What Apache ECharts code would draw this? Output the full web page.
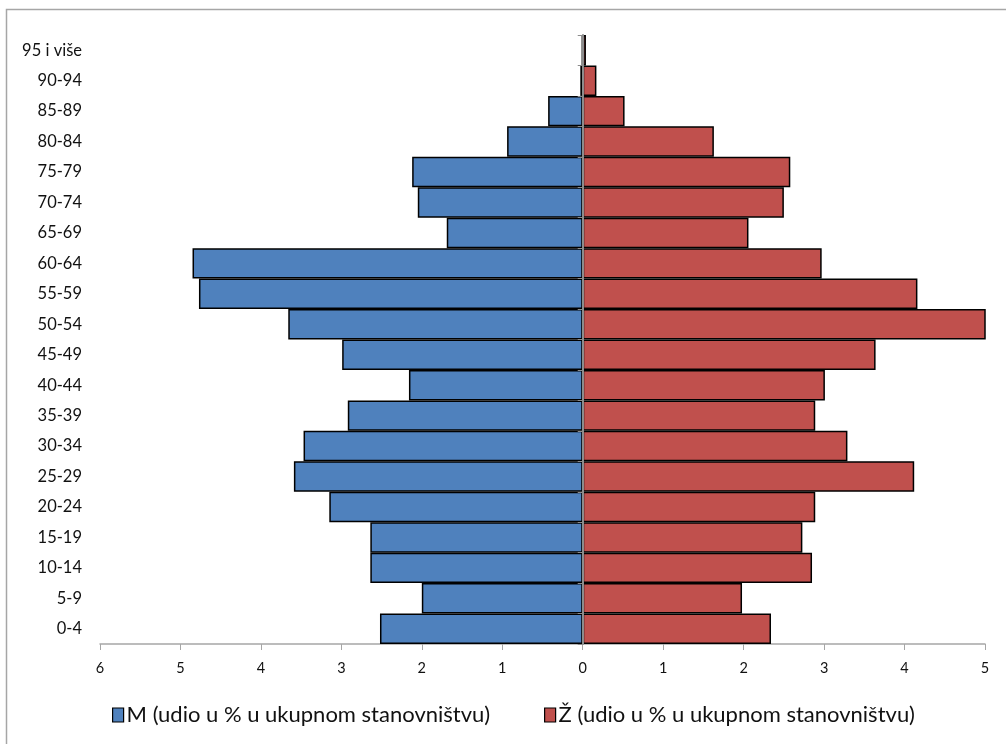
<!DOCTYPE html>
<html>
<head>
<meta charset="utf-8">
<script src="https://cdn.jsdelivr.net/npm/echarts@6/dist/echarts.min.js"></script>
<style>
html,body{margin:0;padding:0;background:#fff;}
#main{width:1006px;height:744px;}
</style>
</head>
<body>
<div id="main"></div>
<script>
const categories = ['0-4','5-9','10-14','15-19','20-24','25-29','30-34','35-39','40-44','45-49','50-54','55-59','60-64','65-69','70-74','75-79','80-84','85-89','90-94','95 i više'];
const male = [2.52, 2.00, 2.64, 2.64, 3.15, 3.59, 3.47, 2.92, 2.16, 2.99, 3.66, 4.77, 4.85, 1.69, 2.05, 2.12, 0.94, 0.43, 0.03, 0.01];
const female = [2.34, 1.98, 2.85, 2.73, 2.89, 4.12, 3.29, 2.89, 3.01, 3.64, 5.10, 4.16, 2.97, 2.06, 2.50, 2.58, 1.63, 0.52, 0.17, 0.04];
const maleName = 'M (udio u % u ukupnom stanovništvu)';
const femaleName = 'Ž (udio u % u ukupnom stanovništvu)';
const xMin = -6, xMax = 5;

const FONT = 'Lato';
const W = 1006, gridLeft = 100, gridRight = 21;
const gridWidth = W - gridLeft - gridRight;
// distance of the zero line from the right edge of the plot
const zeroFromRight = gridWidth * (xMax - 0) / (xMax - xMin);

const chart = echarts.init(document.getElementById('main'), null, {renderer: 'canvas'});
chart.setOption({
  backgroundColor: '#fff',
  animation: false,
  textStyle: {fontFamily: FONT},
  graphic: [{
    type: 'rect',
    shape: {x: 6.5, y: 9.5, width: 1100, height: 800},
    style: {fill: 'none', stroke: '#a6a6a6', lineWidth: 1.5},
    silent: true, z: -10
  }],
  grid: {left: gridLeft, right: gridRight, top: 35, bottom: 100, containLabel: false},
  legend: {
    left: 112, top: 704, padding: 0,
    itemWidth: 11, itemHeight: 14, itemGap: 54,
    icon: 'rect',
    textStyle: {fontFamily: FONT, fontSize: 22, color: '#111', padding: [0,0,0,-2]},
    data: [
      {name: maleName, itemStyle: {borderColor: '#000', borderWidth: 1.2}},
      {name: femaleName, itemStyle: {borderColor: '#000', borderWidth: 1.2}}
    ]
  },
  xAxis: {
    type: 'value', min: xMin, max: xMax, interval: 1,
    axisLine: {show: true, onZero: false, lineStyle: {color: '#a6a6a6', width: 1.5}},
    axisTick: {show: true, length: 6, lineStyle: {color: '#a6a6a6'}},
    splitLine: {show: false},
    axisLabel: {
      margin: 17, fontFamily: FONT, fontSize: 14.5, color: '#111',
      formatter: v => String(Math.abs(v))
    }
  },
  yAxis: [{
    type: 'category', data: categories, position: 'left',
    axisLine: {show: false}, axisTick: {show: false},
    axisLabel: {margin: 18, fontFamily: FONT, fontSize: 16.5, color: '#111'}
  }, {
    type: 'category', data: categories, position: 'right',
    offset: -zeroFromRight,
    axisLine: {show: true, onZero: false, lineStyle: {color: '#8c8c8c', width: 2}},
    axisTick: {show: true, inside: true, length: 5, lineStyle: {color: '#8c8c8c', width: 1}},
    axisLabel: {show: false}, splitLine: {show: false}, z: 10
  }],
  series: [{
    name: maleName, type: 'bar', stack: 'p', yAxisIndex: 0,
    barWidth: '100%', barCategoryGap: 0,
    data: male.map(v => -v),
    itemStyle: {color: '#4F81BD', borderColor: '#000', borderWidth: 1.5}
  }, {
    name: femaleName, type: 'bar', stack: 'p2', yAxisIndex: 0,
    barWidth: '100%', barGap: '-100%', barCategoryGap: 0,
    data: female,
    itemStyle: {color: '#C0504D', borderColor: '#000', borderWidth: 1.5}
  }]
});
</script>
</body>
</html>
